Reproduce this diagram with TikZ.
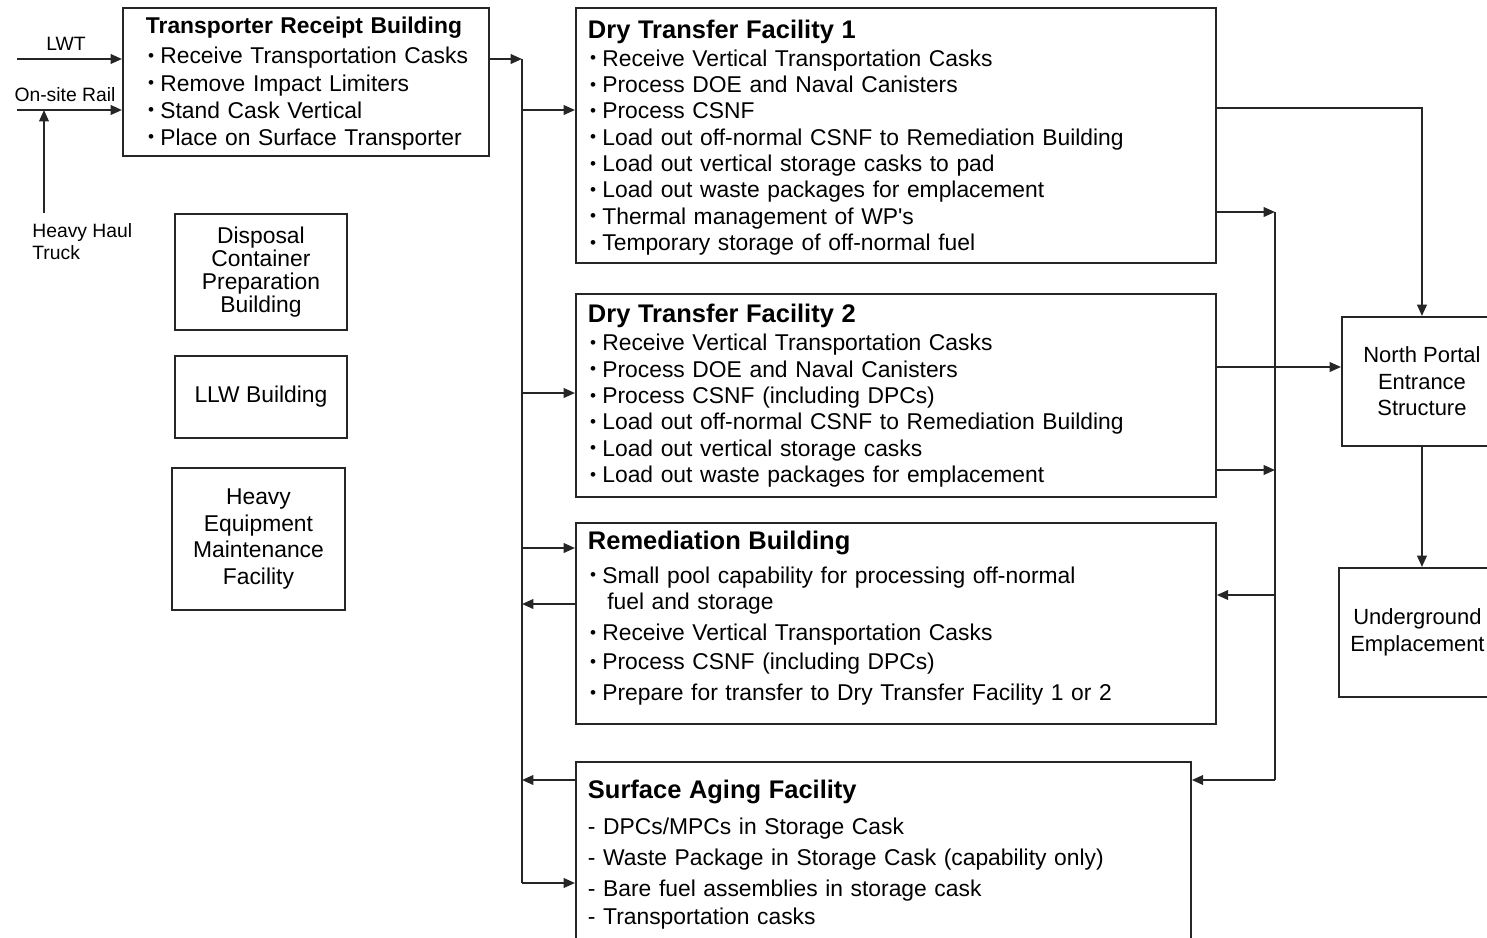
\documentclass[tikz,border=0pt]{standalone}
\usepackage{fontspec}
\setmainfont{Liberation Sans}
\usetikzlibrary{arrows.meta}

\newcommand\ttl[1]{\mbox{\fontsize{14.5}{15}\selectfont\bfseries #1}}
\newcommand\itm[1]{\mbox{\makebox[8.2pt][l]{\hspace{1.2pt}\raisebox{0.2ex}{\scalebox{0.75}{•}}}#1}}
\newcommand\dsh[1]{\mbox{-\ #1}}

\begin{document}
\begin{tikzpicture}[x=0.02cm,y=-0.02cm,
  line/.style={line width=1.1pt, draw=black!85},
  arr/.style={line, -{Triangle[length=6.5pt,width=5.5pt]}},
  bldg/.style={line, anchor=north west, inner ysep=0pt, inner xsep=0.24cm, align=left,
    font=\fontsize{13}{14.9}\selectfont},
  blk/.style={line, anchor=north west, inner sep=0pt, align=center,
    font=\fontsize{13}{13.2}\selectfont},
  side/.style={font=\fontsize{11}{12.5}\selectfont, inner sep=0pt}]
\useasboundingbox (0,0) rectangle (1487,937);

% receipt building and inputs
\node[bldg, inner xsep=0.46cm, minimum width=7.32cm, minimum height=2.96cm, text width=6.4cm,
  font=\fontsize{13}{15.4}\selectfont] (trb) at (122,7) {%
  \mbox{\rule{0pt}{11.3pt}\bfseries Transporter Receipt Building}\\[1.7pt]
  \itm{Receive Transportation Casks}\\
  \itm{Remove Impact Limiters}\\
  \itm{Stand Cask Vertical}\\
  \itm{Place on Surface Transporter}};
\node[side] (lwt) at (66,44) {LWT};
\node[side] (rail) at (65,95) {On-site Rail};
\node[side, align=left, anchor=north west] (hht) at (32,223) {Heavy Haul\\Truck};
\coordinate (lwtin) at (17,59);
\coordinate (railin) at (17,110);
\coordinate (hhtop) at (44,213);
\draw[arr] (lwtin) -- (lwtin -| trb.west);
\draw[arr] (railin) -- (railin -| trb.west);
\draw[arr] (hhtop) -- (hhtop |- railin);

% support buildings
\node[blk, minimum width=3.44cm, minimum height=2.32cm] (dcpb) at (174,213) {Disposal\\Container\\Preparation\\Building};
\node[blk, minimum width=3.44cm, minimum height=1.64cm] (llw) at (174,355) {LLW Building};
\node[blk, minimum width=3.46cm, minimum height=2.84cm, font=\fontsize{13}{15.3}\selectfont] (hemf) at (171,467) {Heavy\\Equipment\\Maintenance\\Facility};

% process facilities
\node[bldg, minimum width=12.8cm, minimum height=5.1cm, text width=12.32cm,
  font=\fontsize{13}{15}\selectfont] (dtf1) at (575,7) {%
  \ttl{\rule{0pt}{13pt}Dry Transfer Facility 1}\\[0.9pt]
  \itm{Receive Vertical Transportation Casks}\\
  \itm{Process DOE and Naval Canisters}\\
  \itm{Process CSNF}\\
  \itm{Load out off-normal CSNF to Remediation Building}\\
  \itm{Load out vertical storage casks to pad}\\
  \itm{Load out waste packages for emplacement}\\
  \itm{Thermal management of WP\textquotesingle s}\\
  \itm{Temporary storage of off-normal fuel}};
\node[bldg, minimum width=12.8cm, minimum height=4.06cm, text width=12.32cm,
  font=\fontsize{13}{15}\selectfont] (dtf2) at (575,293) {%
  \ttl{Dry Transfer Facility 2}\\[1.4pt]
  \itm{Receive Vertical Transportation Casks}\\
  \itm{Process DOE and Naval Canisters}\\
  \itm{Process CSNF (including DPCs)}\\
  \itm{Load out off-normal CSNF to Remediation Building}\\
  \itm{Load out vertical storage casks}\\
  \itm{Load out waste packages for emplacement}};
\node[bldg, minimum width=12.8cm, minimum height=4.02cm, text width=12.32cm,
  font=\fontsize{13}{14.7}\selectfont] (rem) at (575,522) {%
  \ttl{Remediation Building}\\[4.5pt]
  \itm{Small pool capability for processing off-normal}\\
  \mbox{\hspace{11pt}fuel and storage}\\[3.4pt]
  \itm{Receive Vertical Transportation Casks}\\[1.7pt]
  \itm{Process CSNF (including DPCs)}\\[2.8pt]
  \itm{Prepare for transfer to Dry Transfer Facility 1 or 2}\\[-6pt]\mbox{}};
\node[bldg, minimum width=12.3cm, minimum height=3.7cm, text width=11.82cm,
  font=\fontsize{13}{14.9}\selectfont] (saf) at (575,761) {%
  \ttl{Surface Aging Facility}\\[5.5pt]
  \dsh{DPCs/MPCs in Storage Cask}\\[2.7pt]
  \dsh{Waste Package in Storage Cask (capability only)}\\[2.7pt]
  \dsh{Bare fuel assemblies in storage cask}\\[1pt]
  \dsh{Transportation casks}};

% portal and emplacement
\node[blk, minimum width=3.2cm, minimum height=2.58cm, font=\fontsize{12.5}{15}\selectfont] (npes) at (1341,316) {North Portal\\Entrance\\Structure};
\node[blk, minimum width=3.14cm, minimum height=2.58cm, font=\fontsize{12.5}{15.3}\selectfont] (ue) at (1338,567) {Underground\\Emplacement};

% left transfer bus
\coordinate (busT) at (522,59);
\coordinate (busB) at (522,883);
\coordinate (b1) at (522,110);
\coordinate (b2) at (522,393);
\coordinate (b3) at (522,548);
\coordinate (b4) at (522,604);
\coordinate (b5) at (522,780);
\draw[arr] (trb.east |- busT) -- (busT);
\draw[line] (busT) -- (busB);
\draw[arr] (b1) -- (b1 -| dtf1.west);
\draw[arr] (b2) -- (b2 -| dtf2.west);
\draw[arr] (b3) -- (b3 -| rem.west);
\draw[arr] (b4 -| rem.west) -- (b4);
\draw[arr] (b5 -| saf.west) -- (b5);
\draw[arr] (busB) -- (busB -| saf.west);

% right transfer bus
\coordinate (rb1) at (1275,212);
\coordinate (rb2) at (1275,470);
\coordinate (rb3) at (1275,595);
\coordinate (rb4) at (1275,780);
\coordinate (t1) at (1420,108);
\coordinate (np) at (1341,367);
\draw[arr] (dtf1.east |- rb1) -- (rb1);
\draw[arr] (dtf2.east |- rb2) -- (rb2);
\draw[line] (rb1) -- (rb4);
\draw[arr] (rb3) -- (rb3 -| rem.east);
\draw[arr] (rb4) -- (rb4 -| saf.east);
\draw[arr] (dtf1.east |- t1) -| (npes.north);
\draw[arr] (dtf2.east |- np) -- (np);
\draw[arr] (npes.south) -- (npes.south |- ue.north);
\end{tikzpicture}
\end{document}
